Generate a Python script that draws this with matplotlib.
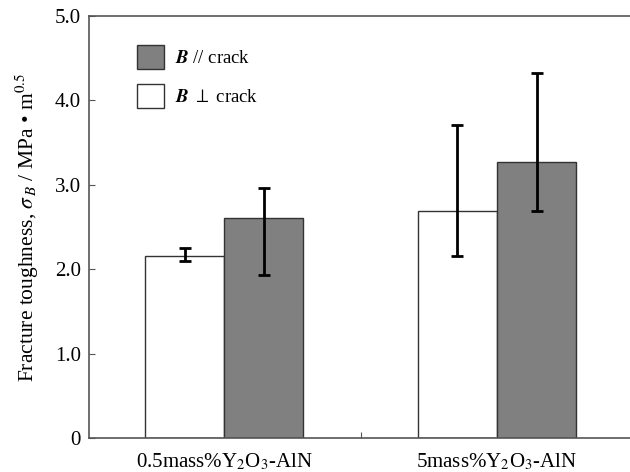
import numpy as np
import matplotlib
matplotlib.use("Agg")
import matplotlib.pyplot as plt
from matplotlib.patches import Patch

plt.rcParams["font.family"] = ["Liberation Serif", "DejaVu Serif"]
plt.rcParams["mathtext.fontset"] = "stix"

# Fracture toughness data (MPa m^0.5)
samples = ["0.5mass%Y$_2$O$_3$-AlN", "5mass%Y$_2$O$_3$-AlN"]
perp_mean = [2.16, 2.69]
perp_low = [2.10, 2.16]
perp_high = [2.25, 3.71]
par_mean = [2.61, 3.27]
par_low = [1.93, 2.69]
par_high = [2.96, 4.33]
y_ticks = [0, 1.0, 2.0, 3.0, 4.0, 5.0]
y_labels = ["0", "1.0", "2.0", "3.0", "4.0", "5.0"]

x = np.arange(len(samples))
w = 0.29
edge = "#333333"

fig = plt.figure(figsize=(6.3, 4.72), dpi=100)
ax = fig.add_axes([0.1413, 0.072, 0.8587, 0.894])

perp_err = [np.array(perp_mean) - np.array(perp_low), np.array(perp_high) - np.array(perp_mean)]
par_err = [np.array(par_mean) - np.array(par_low), np.array(par_high) - np.array(par_mean)]

ax.bar(x - w / 2, perp_mean, w, color="white", edgecolor=edge, linewidth=1.0)
ax.bar(x + w / 2, par_mean, w, color="#808080", edgecolor=edge, linewidth=1.0)
ax.errorbar(x - w / 2, perp_mean, yerr=perp_err, fmt="none", ecolor="black",
            elinewidth=2.0, capsize=4.5, capthick=2.0)
ax.errorbar(x + w / 2, par_mean, yerr=par_err, fmt="none", ecolor="black",
            elinewidth=2.0, capsize=4.5, capthick=2.0)

ax.set_xlim(-0.495, 1.487)
ax.set_ylim(0, 5.0)
ax.set_yticks(y_ticks)
ax.set_yticklabels(y_labels)
ax.set_xticks([0.5])
ax.set_xticklabels([""])
ax.set_xticks(x, minor=True)
ax.set_xticklabels(samples, minor=True)
ax.tick_params(axis="x", which="minor", length=0, labelsize=15, pad=10)
ax.tick_params(axis="x", which="major", direction="in", length=4, color="#555555")
ax.tick_params(axis="y", direction="in", length=4, labelsize=15, color="#555555", pad=6)

for s in ["left", "bottom", "top"]:
    ax.spines[s].set_color("#555555")
    ax.spines[s].set_linewidth(1.2)
ax.spines["right"].set_visible(False)

ax.set_ylabel(r"Fracture toughness, $\sigma_{\,B}$ / MPa • m$^{0.5}$", fontsize=15.5, labelpad=10)

handles = [Patch(facecolor="#808080", edgecolor=edge), Patch(facecolor="white", edgecolor=edge)]
labels = [r"$\mathbfit{B}$ // crack", r"$\mathbfit{B}$ $\perp$ crack"]
ax.legend(handles, labels, loc="upper left", bbox_to_anchor=(0.058, 0.972), frameon=False,
          fontsize=13.5, handlelength=1.45, handleheight=1.6, labelspacing=0.8, handletextpad=0.55)

fig.savefig("out.png", dpi=100)
